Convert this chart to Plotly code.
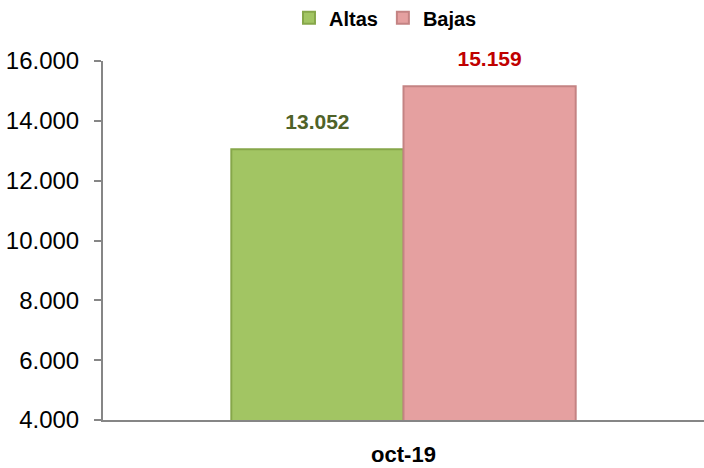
"""Altas y Bajas, oct-19."""

import plotly.graph_objects as go

CATEGORIES = ["oct-19"]
ALTAS = [13052]
BAJAS = [15159]

FONT = "Liberation Sans, Arial, sans-serif"
SERIES = [
    ("Altas", ALTAS, "#a2c563", "#86a74a", "#4f6228"),
    ("Bajas", BAJAS, "#e5a0a0", "#c48383", "#c00000"),
]

fig = go.Figure()

for name, values, fill, edge, label_color in SERIES:
    fig.add_trace(go.Bar(
        x=CATEGORIES,
        y=values,
        name=name,
        offsetgroup=name,
        marker={"color": fill, "line": {"color": edge, "width": 2}},
        hoverinfo="skip",
    ))
    # value label: invisible grouped marker so the text sits a bit above the bar
    fig.add_trace(go.Scatter(
        x=CATEGORIES,
        y=values,
        mode="text+markers",
        offsetgroup=name,
        marker={"size": 22, "opacity": 0},
        text=[f"{v:,}".replace(",", ".") for v in values],
        textposition="top center",
        textfont={"family": FONT, "size": 21, "color": label_color, "weight": "bold"},
        showlegend=False,
        cliponaxis=False,
    ))

fig.update_layout(
    width=704,
    height=468,
    barmode="group",
    bargap=0.427,
    bargroupgap=0,
    scattermode="group",
    scattergap=0.427,
    separators=",.",
    plot_bgcolor="white",
    paper_bgcolor="white",
    font={"family": FONT, "color": "black"},
    margin={"l": 103, "r": 0, "t": 61, "b": 48},
    legend={
        "orientation": "h",
        "x": 0.47,
        "xanchor": "center",
        "yref": "container",
        "y": 0.962,
        "yanchor": "middle",
        "font": {"family": FONT, "size": 20, "weight": "bold"},
        "itemwidth": 30,
    },
)
fig.update_yaxes(
    range=[4000, 16000],
    dtick=2000,
    tickformat=",.0f",
    automargin=False,
    showgrid=False,
    showline=True,
    linecolor="#868686",
    linewidth=2,
    ticks="outside",
    ticklen=7,
    tickcolor="#868686",
    tickwidth=2,
    ticklabelstandoff=10,
    tickfont={"family": FONT, "size": 24, "color": "black"},
)
fig.update_xaxes(
    automargin=False,
    showgrid=False,
    showline=True,
    linecolor="#868686",
    linewidth=2,
    ticks="outside",
    ticklen=14,
    tickcolor="rgba(0,0,0,0)",
    tickfont={"family": FONT, "size": 22, "color": "black", "weight": "bold"},
)

# page body has a default 8px margin; drop it so the chart fills the window
fig.write_html(
    "out.html",
    config={"displayModeBar": False},
    post_script="document.body.style.margin = '0';",
)
